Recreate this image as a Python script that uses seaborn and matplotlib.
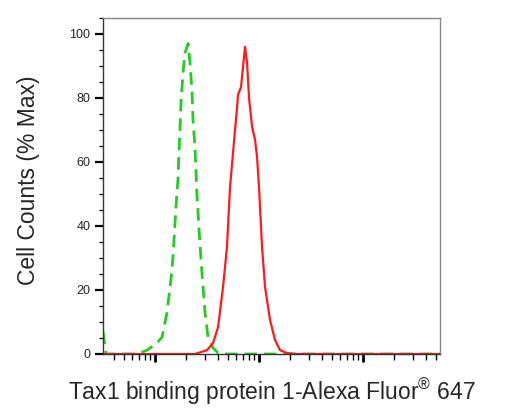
import matplotlib
matplotlib.use("Agg")
import matplotlib.pyplot as plt
import matplotlib.ticker as mticker
import numpy as np
import pandas as pd
import seaborn as sns

# Control (isotype) histogram, green dashed
ctrl_x = [31.6, 33.8, 67, 84, 104, 117, 130, 142, 149, 159, 166, 170, 174, 178, 186, 194,
          208, 217, 227, 232, 242, 248, 253, 265, 283, 303, 323, 361, 404, 441, 55000]
ctrl_y = [7, 0, 0, 1.2, 3.4, 5.3, 12.8, 23, 30.6, 46, 54.4, 62.8, 71, 79, 88, 94,
          97, 91, 81.6, 73, 64.7, 56.6, 50, 38.8, 25, 12.8, 5.3, 1.9, 0.3, 0, 0]

# Tax1 binding protein 1 stained histogram, red solid
tax_x = [31.6, 242, 271, 316, 361, 404, 451, 492, 526, 562, 588, 615, 628, 671, 702, 734,
         767, 802, 857, 915, 957, 1000, 1069, 1142, 1276, 1425, 1592, 1859, 2220, 55000]
tax_y = [0, 0, 0.5, 1.2, 3.4, 8.4, 21, 33.5, 52, 62.8, 70, 77, 81, 83.4, 89.7, 96,
         91, 80, 71, 67, 61.6, 52, 33.5, 21, 10.6, 4.4, 1.2, 0.3, 0, 0]

y_ticks = [0, 20, 40, 60, 80, 100]
x_label = "Tax1 binding protein 1-Alexa Fluor$^{\\mathregular{®}}$ 647"
y_label = "Cell Counts (% Max)"

sns.set_style("ticks")
plt.rcParams['font.family'] = ['Liberation Sans', 'DejaVu Sans']
plt.rcParams['mathtext.default'] = 'regular'

fig = plt.figure(figsize=(5.22, 4.13), dpi=100)
ax = fig.add_axes([103/522, 1-354/413, (440-103)/522, (354-18)/413])

ctrl = pd.DataFrame({"x": ctrl_x, "y": ctrl_y})
tax = pd.DataFrame({"x": tax_x, "y": tax_y})

sns.lineplot(data=ctrl, x="x", y="y", ax=ax, color="#22cc22", lw=2.0,
             linestyle=(0, (4.5, 2.5)), sort=False, estimator=None)
sns.lineplot(data=tax, x="x", y="y", ax=ax, color="#ff1a1a", lw=1.6,
             sort=False, estimator=None)

ax.set_xscale("log")
ax.set_xlim(31.6, 55000)
ax.set_ylim(0, 105)

ax.xaxis.set_major_locator(mticker.FixedLocator([100, 1000, 10000]))
ax.xaxis.set_minor_locator(mticker.LogLocator(base=10, subs=np.arange(2, 10), numticks=20))
ax.xaxis.set_major_formatter(mticker.NullFormatter())
ax.xaxis.set_minor_formatter(mticker.NullFormatter())

ax.set_yticks(y_ticks)
ax.yaxis.set_minor_locator(mticker.MultipleLocator(5))
ax.set_yticklabels([str(t) for t in y_ticks], fontsize=9)

ax.tick_params(axis="x", which="major", direction="out", length=6, width=2, color="black")
ax.tick_params(axis="x", which="minor", direction="out", length=4, width=1, color="black")
ax.tick_params(axis="y", which="major", direction="out", length=6, width=1.6, color="black", pad=3)
ax.tick_params(axis="y", which="minor", direction="out", length=3, width=0.9, color="black")

for s in ["left", "bottom"]:
    ax.spines[s].set_color("#333333")
    ax.spines[s].set_linewidth(1.0)
for s in ["top", "right"]:
    ax.spines[s].set_visible(True)
    ax.spines[s].set_color("#888888")
    ax.spines[s].set_linewidth(1.0)

ax.set_xlabel(x_label, fontsize=16.5, labelpad=7)
ax.set_ylabel(y_label, fontsize=16.5)
ax.yaxis.set_label_coords(-0.187, 0.518)

fig.savefig("out.png", dpi=100)
